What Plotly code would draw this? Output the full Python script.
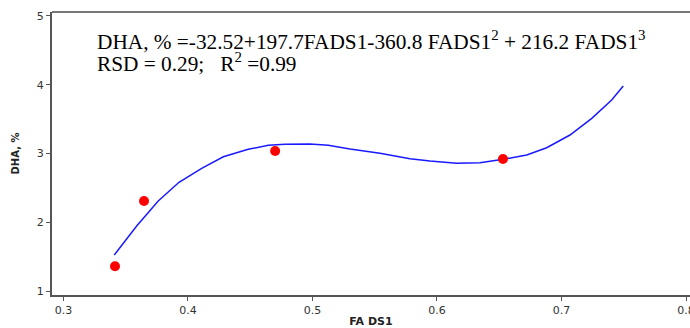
import plotly.graph_objects as go

# observed data points
fads1_obs = [0.3414, 0.3647, 0.470, 0.653]
dha_obs = [1.36, 2.31, 3.036, 2.92]

# fitted curve
fads1_fit = [0.3408, 0.3588, 0.3761, 0.3928, 0.4110, 0.4284, 0.4484, 0.4645, 0.4779,
             0.4980, 0.5127, 0.5301, 0.5542, 0.5783, 0.5944, 0.6158, 0.6345, 0.6533,
             0.6721, 0.6881, 0.7068, 0.7243, 0.7403, 0.7496]
dha_fit = [1.524, 1.945, 2.309, 2.581, 2.785, 2.953, 3.061, 3.119, 3.134,
           3.138, 3.119, 3.065, 3.003, 2.924, 2.891, 2.857, 2.866, 2.916,
           2.978, 3.084, 3.269, 3.512, 3.778, 3.982]

x_ticks = [0.3, 0.4, 0.5, 0.6, 0.7, 0.8]
y_ticks = [1, 2, 3, 4, 5]

fig = go.Figure()
fig.add_trace(go.Scatter(x=fads1_fit, y=dha_fit, mode="lines",
                         line=dict(color="#1a1aff", width=1.5), showlegend=False))
fig.add_trace(go.Scatter(x=fads1_obs, y=dha_obs, mode="markers",
                         marker=dict(color="#ff0000", size=10), showlegend=False))

tickfont = dict(family="DejaVu Sans", size=11, color="#333333")
fig.update_layout(
    width=690, height=328,
    margin=dict(l=52, r=0, t=12, b=33),
    paper_bgcolor="white", plot_bgcolor="white",
    xaxis=dict(range=[0.2908, 0.8032], tickvals=x_ticks,
               ticktext=[f"{v:.1f}" for v in x_ticks], ticklabeloverflow="allow",
               automargin=False,
               showgrid=False, zeroline=False, showline=True, linecolor="#555555",
               linewidth=2, ticks="outside", ticklen=4, tickcolor="#555555",
               tickfont=tickfont,
               title=dict(text="<b>FA DS1</b>", font=dict(family="DejaVu Sans", size=11, color="#222"),
                          standoff=3)),
    yaxis=dict(range=[0.942, 5.058], tickvals=y_ticks, showgrid=False, zeroline=False,
               showline=True, linecolor="#555555", linewidth=2, ticks="outside",
               ticklen=4, tickcolor="#555555", tickfont=tickfont, automargin=False,
               title=dict(text="<b>DHA, %</b>", font=dict(family="DejaVu Sans", size=10, color="#222"),
                          standoff=15)),
    shapes=[dict(type="line", xref="paper", yref="paper", x0=0, x1=1, y0=1, y1=1,
                 line=dict(color="#777777", width=2))],
    annotations=[
        dict(xref="paper", yref="paper", x=(95 - 52) / 638, y=(295 - 40.5) / 283,
             xanchor="left", yanchor="middle", showarrow=False, align="left",
             text="DHA, % =-32.52+197.7FADS1-360.8 FADS1<sup>2</sup> + 216.2 FADS1<sup>3</sup>",
             font=dict(family="Liberation Serif", size=21.3, color="black")),
        dict(xref="paper", yref="paper", x=(95 - 52) / 638, y=(295 - 62) / 283,
             xanchor="left", yanchor="middle", showarrow=False, align="left",
             text="RSD = 0.29;   R<sup>2</sup> =0.99",
             font=dict(family="Liberation Serif", size=21.3, color="black")),
    ],
)
fig.write_html("out.html", config={"displayModeBar": False},
               post_script="document.body.style.margin='0';"
                           "document.body.style.overflow='hidden';"
                           "document.documentElement.style.overflow='hidden';")
